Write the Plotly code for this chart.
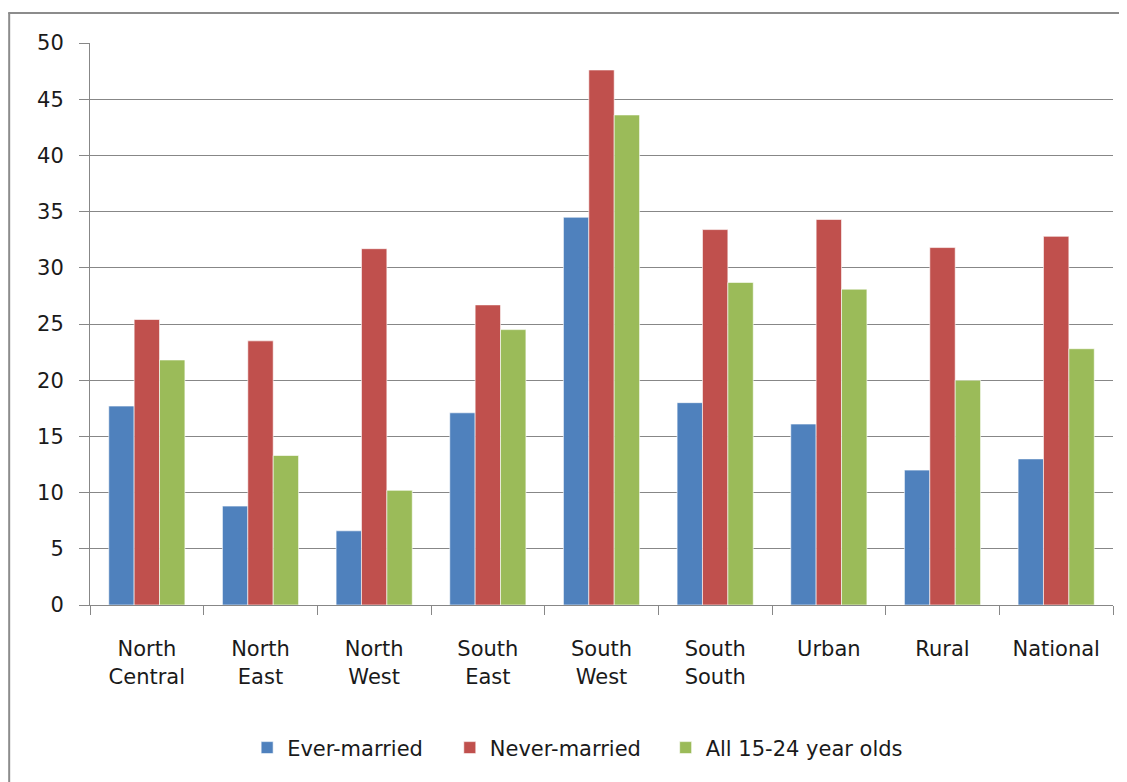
import plotly.graph_objects as go

categories = ["North<br>Central", "North<br>East", "North<br>West", "South<br>East",
              "South<br>West", "South<br>South", "Urban", "Rural", "National"]
ever_married = [17.7, 8.8, 6.6, 17.1, 34.5, 18.0, 16.1, 12.0, 13.0]
never_married = [25.4, 23.5, 31.7, 26.7, 47.6, 33.4, 34.3, 31.8, 32.8]
all_15_24 = [21.8, 13.3, 10.2, 24.5, 43.6, 28.7, 28.1, 20.0, 22.8]
series_names = ["Ever-married", "Never-married", "All 15-24 year olds"]
colors = ["#4F81BD", "#C0504D", "#9BBB59"]
y_ticks = [0, 5, 10, 15, 20, 25, 30, 35, 40, 45, 50]

legend_ids = ["legend", "legend2", "legend3"]
legend_x = [0.1536, 0.3517, 0.5627]

fig = go.Figure()
for name, vals, col, lg in zip(series_names, [ever_married, never_married, all_15_24], colors, legend_ids):
    fig.add_trace(go.Bar(x=categories, y=vals, name=name, legend=lg,
                         marker=dict(color=col, line=dict(color="rgba(255,255,255,0.6)", width=1))))

font = "DejaVu Sans, sans-serif"
legend_common = dict(orientation="h", xanchor="left", y=-0.2544, yanchor="middle",
                     font=dict(size=21), itemwidth=30, bgcolor="rgba(0,0,0,0)")
border = dict(color="#8c8c8c", width=2)
fig.update_layout(
    width=1119, height=774,
    margin=dict(l=82, r=14, t=35, b=177),
    paper_bgcolor="white", plot_bgcolor="white",
    barmode="group", bargap=0.33, bargroupgap=0,
    font=dict(family=font, size=21, color="#1a1a1a"),
    showlegend=True,
    legend=dict(x=legend_x[0], **legend_common),
    legend2=dict(x=legend_x[1], **legend_common),
    legend3=dict(x=legend_x[2], **legend_common),
    shapes=[
        dict(type="line", xref="paper", yref="paper", x0=-0.079, x1=-0.079, y0=-0.5, y1=1.0534,
             line=border, layer="below"),
        dict(type="line", xref="paper", yref="paper", x0=-0.08, x1=1.3, y0=1.0534, y1=1.0534,
             line=border, layer="below"),
    ],
)
fig.update_xaxes(
    type="category", showgrid=False, showline=True, linecolor="#878787", linewidth=1,
    ticks="outside", tickson="boundaries", ticklen=9, tickcolor="#878787",
    tickfont=dict(size=21), ticklabelstandoff=25,
)
fig.update_yaxes(
    range=[0, 50], tickvals=y_ticks, showgrid=True, gridcolor="#878787", gridwidth=1,
    showline=True, linecolor="#878787", linewidth=1,
    ticks="outside", ticklen=10, tickcolor="#878787",
    tickfont=dict(size=21), zeroline=False, ticklabelstandoff=11,
)

fig.write_html("out.html")
